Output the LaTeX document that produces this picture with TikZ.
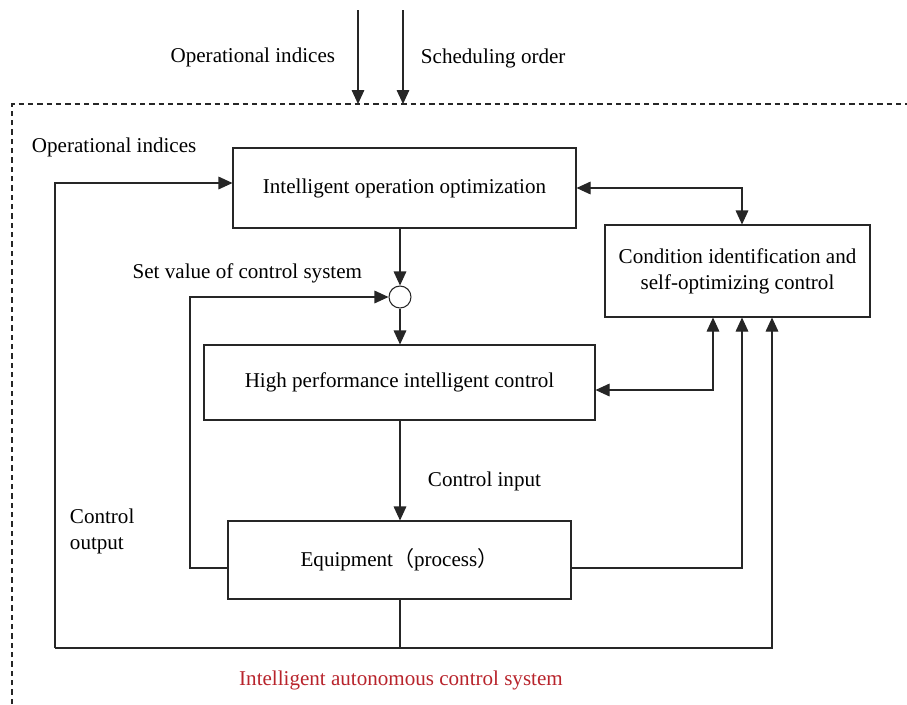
\documentclass[tikz,border=0pt]{standalone}
\usepackage{fontspec}
\setmainfont{Liberation Serif}
\newfontfamily\cjk{Noto Sans CJK SC}
\usetikzlibrary{calc,arrows.meta,positioning}
\definecolor{redlabel}{RGB}{184,36,44}

\begin{document}
\begin{tikzpicture}[x=0.75pt,y=-0.75pt,
    font=\fontsize{15.8}{19.5}\selectfont,
    line width=0.8pt, draw=black!85,
    blockbox/.style={draw=black!85, minimum width=#1*0.75pt, inner sep=0pt, align=center},
    sumnode/.style={draw=black!85, circle, minimum size=16.5pt, inner sep=0pt},
    tip/.style={-{Triangle[length=10.5pt,width=9.5pt]}},
    tips/.style={{Triangle[length=10.5pt,width=9.5pt]}-{Triangle[length=10.5pt,width=9.5pt]}}]
    \useasboundingbox (0,0) rectangle (907,704);

    % outer system boundary
    \draw[dash pattern=on 4pt off 3pt] (12,704) -- (12,104) -- (907,104);

    % blocks
    \node[blockbox=343, minimum height=60pt] (opt) at (404.5,188) {Intelligent operation optimization};
    \node[blockbox=265, minimum height=69pt] (cond) at (737.5,271) {Condition identification and\\self-optimizing control};
    \node[sumnode] (sum) at (400,297) {};
    \node[blockbox=391, minimum height=56.25pt] (hpc) at (399.5,382.5) {High performance intelligent control};
    \node[blockbox=343, minimum height=58.5pt] (equip) at (399.5,560) {Equipment{\cjk （}process{\cjk ）}};

    % labels
    \node[anchor=east] (lblopin) at (340,57) {Operational indices};
    \node[anchor=west] (lblsched) at (416,58) {Scheduling order};
    \node[anchor=west] (lblopidx) at (27,147) {Operational indices};
    \node[anchor=east] (lblset) at (367,273) {Set value of control system};
    \node[anchor=west] (lblin) at (423,481) {Control input};
    \node[anchor=west, align=left] (lblout) at (65,531) {Control\\output};
    \node[text=redlabel] (lblsys) at (401,680) {Intelligent autonomous control system};

    \coordinate (topA) at (358,10);
    \coordinate (topB) at (403,10);
    \coordinate (dashA) at (358,104);
    \coordinate (dashB) at (403,104);
    \coordinate (bus) at (400,648);

    % inputs from above
    \draw[tip] (topA) -- (dashA);
    \draw[tip] (topB) -- (dashB);

    % main path
    \draw[tip] (sum |- opt.south) -- (sum);
    \draw[tip] (sum) -- (sum |- hpc.north);
    \draw[tip] (sum |- hpc.south) -- (sum |- equip.north);

    % links to condition block
    \draw[tips] (opt.east) -- (742,188) -- (742,0 |- cond.north);
    \draw[tips] (hpc.east |- 0,390) -- (713,390) -- (713,0 |- cond.south);
    \draw[tip] (equip.east |- 0,568) -- (742,568) -- (742,0 |- cond.south);

    % feedback to summing node
    \draw[tip] (equip.west |- 0,568) -- (190,568) -- (190,297) -- (sum.west);

    % output bus
    \draw (sum |- equip.south) -- (bus);
    \draw[tip] (55,648) -- (772,648) -- (772,0 |- cond.south);
    \draw[tip] (55,648) -- (55,183) -- (opt.west |- 0,183);
\end{tikzpicture}
\end{document}
